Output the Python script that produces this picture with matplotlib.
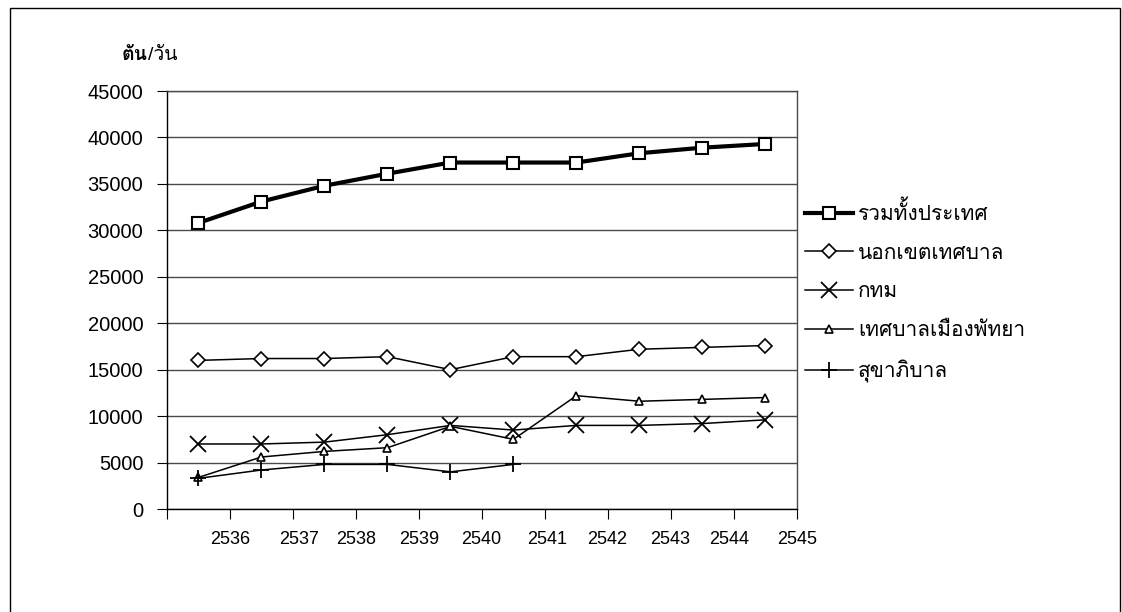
import matplotlib
matplotlib.use("Agg")
import matplotlib.pyplot as plt
from matplotlib import font_manager
from matplotlib.ft2font import FT2Font
from matplotlib.patches import Rectangle

years = ["2536", "2537", "2538", "2539", "2540", "2541", "2542", "2543", "2544", "2545"]
total = [30800, 33100, 34800, 36100, 37300, 37300, 37300, 38300, 38900, 39300]
outside_muni = [16000, 16200, 16200, 16400, 15000, 16400, 16400, 17200, 17400, 17600]
bangkok = [7000, 7000, 7200, 8000, 9000, 8500, 9000, 9000, 9200, 9600]
pattaya = [3400, 5600, 6200, 6600, 8900, 7500, 12200, 11600, 11800, 12000]
sanitary = [3300, 4200, 4800, 4800, 4000, 4800]

series_names = ["รวมทั้งประเทศ", "นอกเขตเทศบาล", "กทม", "เทศบาลเมืองพัทยา", "สุขาภิบาล"]


def find_thai_font():
    for f in font_manager.fontManager.ttflist:
        try:
            if 0x0E15 in FT2Font(f.fname).get_charmap():
                return f.name
        except Exception:
            pass
    return "DejaVu Sans"


thai = find_thai_font()
fam = ["Liberation Sans", thai, "DejaVu Sans"]
plt.rcParams["font.family"] = fam

fig = plt.figure(figsize=(11.22, 6.12), dpi=100)
ax = fig.add_axes([0.1488, 0.1683, 0.5615, 0.683])

# outer frame of the page
fig.patches.append(Rectangle((10 / 1122, -0.1), 1110 / 1122, 1 - 8 / 612 + 0.1,
                             transform=fig.transFigure, fill=False,
                             edgecolor="black", lw=1))

x = [i + 0.5 for i in range(len(years))]
ax.plot(x, total, color="black", lw=3, marker="s", ms=8, mfc="white",
        mec="black", mew=1.5, label=series_names[0])
ax.plot(x, outside_muni, color="black", lw=1.1, marker="D", ms=7.5, mfc="white",
        mec="black", mew=1.2, label=series_names[1])
ax.plot(x, bangkok, color="black", lw=1.1, marker="x", ms=11, mew=1.3,
        label=series_names[2])
ax.plot(x, pattaya, color="black", lw=1.1, marker="^", ms=6, mfc="white",
        mec="black", mew=1.2, label=series_names[3])
ax.plot(x[:len(sanitary)], sanitary, color="black", lw=1.1, marker="+", ms=12,
        mew=1.3, label=series_names[4])

ax.set_xlim(0, len(years))
ax.set_ylim(0, 45000)
ax.set_yticks(range(0, 45001, 5000))
ax.yaxis.grid(True, color="#4a4a4a", lw=1)
ax.set_axisbelow(True)
for s in ax.spines.values():
    s.set_color("black")
    s.set_linewidth(1)
ax.spines["right"].set_color("#4a4a4a")
ax.spines["top"].set_color("#4a4a4a")
ax.tick_params(axis="y", length=7, labelsize=14.5, pad=10)

# category boundaries as ticks, year labels placed under the right-hand ticks
ax.set_xticks(range(len(years) + 1))
ax.set_xticklabels([])
ax.tick_params(axis="x", which="major", length=7)
ax.xaxis.remove_overlapping_locs = False
label_pos = [1.0, 2.1, 3.0, 4.0, 4.98, 6.03, 6.98, 7.99, 8.92, 10.0]
ax.set_xticks(label_pos, minor=True)
ax.set_xticklabels(years, minor=True, fontsize=13)
ax.tick_params(axis="x", which="minor", length=0, pad=16)

t1 = fig.text(122 / 1122, 1 - 56 / 612, "ตัน", fontsize=14, fontweight="bold",
              va="center", ha="left", family=fam)
ax.annotate("/วัน", xy=(1, 0.5), xycoords=t1, va="center", ha="left",
            fontsize=14, family=fam, annotation_clip=False)

ax.legend(loc="center left", bbox_to_anchor=(1.0, 0.52), frameon=False,
          handlelength=2.27, handletextpad=0.25, borderpad=0.4,
          labelspacing=0.95, borderaxespad=0.0, prop={"family": fam, "size": 15})

fig.savefig("out.png", dpi=100)
